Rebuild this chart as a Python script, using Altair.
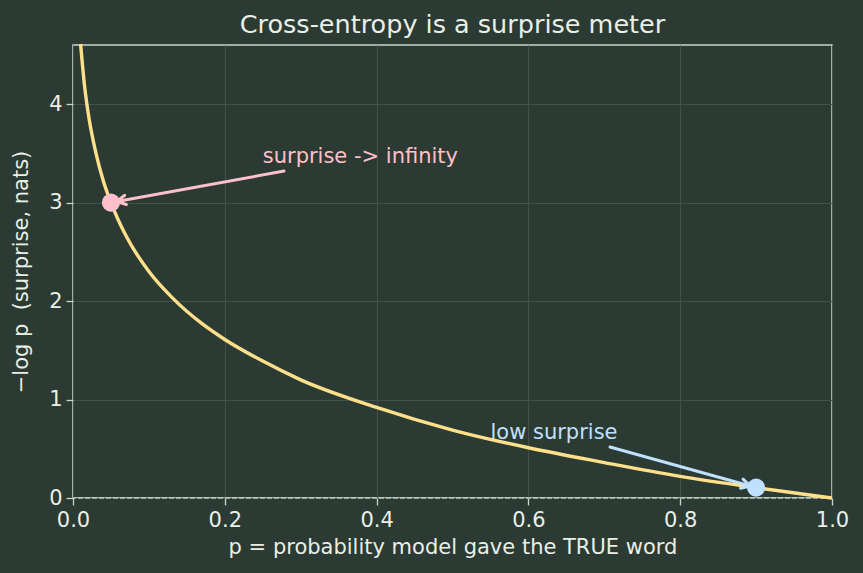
import math
import altair as alt
import pandas as pd

# ---- data ----
p_vals = [0.01, 0.015, 0.02, 0.03, 0.04, 0.05, 0.07, 0.10, 0.13, 0.17, 0.20,
          0.25, 0.30, 0.40, 0.50, 0.60, 0.70, 0.80, 0.90, 1.00]
surprise = [4.61, 4.20, 3.91, 3.51, 3.22, 3.00, 2.66, 2.30, 2.04, 1.77, 1.61,
            1.39, 1.20, 0.92, 0.69, 0.51, 0.36, 0.22, 0.105, 0.0]

pt_p = [0.05, 0.90]
pt_s = [3.00, 0.105]
pt_color = ["#ffc0cb", "#bfe0ff"]

ann_text = ["surprise -> infinity", "low surprise"]
ann_x = [0.25, 0.55]
ann_y = [3.40, 0.60]
arrow_start_x = [0.278, 0.7075]
arrow_start_y = [3.32, 0.518]

x_ticks = [0.0, 0.2, 0.4, 0.6, 0.8, 1.0]
y_ticks = [0, 1, 2, 3, 4]

# ---- styling ----
BG = "#2b3a33"
FG = "#e9efe6"
FRAME = "#c9d5c9"
GRID = "#42524a"
CURVE = "#ffe08a"
FONT = "DejaVu Sans"
W, H = 759, 453
XMAX, YMAX = 1.0, 4.6

xs = alt.Scale(domain=[0, XMAX], nice=False, zero=False)
ys = alt.Scale(domain=[0, YMAX], nice=False, zero=False)

# convert data <-> pixel to build arrow heads
def to_px(x, y):
    return x / XMAX * W, (YMAX - y) / YMAX * H

def to_data(px, py):
    return px / W * XMAX, YMAX - py / H * YMAX

segs = []
for i in range(2):
    sx, sy = to_px(arrow_start_x[i], arrow_start_y[i])
    tx, ty = to_px(pt_p[i], pt_s[i])
    dx, dy = sx - tx, sy - ty
    d = math.hypot(dx, dy)
    ux, uy = dx / d, dy / d
    shrink = 6.0
    hx, hy = tx + ux * shrink, ty + uy * shrink
    segs.append((sx, sy, hx, hy, pt_color[i]))
    L = 10.0
    for ang in (math.radians(28), -math.radians(28)):
        rx = ux * math.cos(ang) - uy * math.sin(ang)
        ry = ux * math.sin(ang) + uy * math.cos(ang)
        segs.append((hx, hy, hx + rx * L, hy + ry * L, pt_color[i]))

seg_rows = []
for sx, sy, ex, ey, c in segs:
    x1, y1 = to_data(sx, sy)
    x2, y2 = to_data(ex, ey)
    seg_rows.append({"x": x1, "y": y1, "x2": x2, "y2": y2, "c": c})
seg_df = pd.DataFrame(seg_rows)

curve_df = pd.DataFrame({"p": p_vals, "s": surprise})
pts_df = pd.DataFrame({"p": pt_p, "s": pt_s, "c": pt_color})
ann_df = pd.DataFrame({"x": ann_x, "y": ann_y, "t": ann_text, "c": pt_color})

x_axis = alt.Axis(values=x_ticks, format=".1f", title="p = probability model gave the TRUE word",
                  grid=True, labelFlush=False)
y_axis = alt.Axis(values=y_ticks, format="d", title="\u2212log p\u00a0 (surprise, nats)", grid=True,
                  labelFlush=False)

base_curve = alt.Chart(curve_df).mark_line(color=CURVE, strokeWidth=3.4, interpolate="monotone").encode(
    x=alt.X("p:Q", scale=xs, axis=x_axis),
    y=alt.Y("s:Q", scale=ys, axis=y_axis),
)

zero_rule = alt.Chart(pd.DataFrame({"z": [0]})).mark_rule(
    color=FRAME, strokeWidth=1.5, strokeDash=[5, 2], opacity=0.85
).encode(y=alt.Y("z:Q", scale=ys))

arrows = alt.Chart(seg_df).mark_rule(strokeWidth=3, strokeCap="round").encode(
    x=alt.X("x:Q", scale=xs), y=alt.Y("y:Q", scale=ys),
    x2="x2:Q", y2="y2:Q",
    color=alt.Color("c:N", scale=None),
)

points = alt.Chart(pts_df).mark_point(filled=True, size=330, opacity=1, shape="circle").encode(
    x=alt.X("p:Q", scale=xs), y=alt.Y("s:Q", scale=ys),
    color=alt.Color("c:N", scale=None),
)

texts = alt.Chart(ann_df).mark_text(align="left", baseline="alphabetic", font=FONT, fontSize=21).encode(
    x=alt.X("x:Q", scale=xs), y=alt.Y("y:Q", scale=ys),
    text="t:N",
    color=alt.Color("c:N", scale=None),
)

chart = alt.layer(zero_rule, base_curve, points, arrows, texts).properties(
    width=W, height=H,
    title=alt.TitleParams("Cross-entropy is a surprise meter", fontSize=25.5, font=FONT,
                          fontWeight="normal", color=FG, anchor="middle", offset=6, dy=7),
    background=BG,
    padding={"left": 73, "top": 45, "right": 31, "bottom": 75},
    autosize=alt.AutoSizeParams(type="none"),
).configure_view(
    stroke=FRAME, strokeWidth=1.5, fill=BG
).configure_axis(
    labelFont=FONT, titleFont=FONT, labelFontSize=21, titleFontSize=21,
    labelColor=FG, titleColor=FG, titleFontWeight="normal",
    tickColor=FRAME, tickSize=7, tickWidth=1.3, domain=False,
    gridColor=GRID, gridWidth=1, labelPadding=4,
).configure_axisX(titlePadding=6).configure_axisY(titlePadding=17)

chart.save("out.html", embed_options={"renderer": "svg", "actions": False})
